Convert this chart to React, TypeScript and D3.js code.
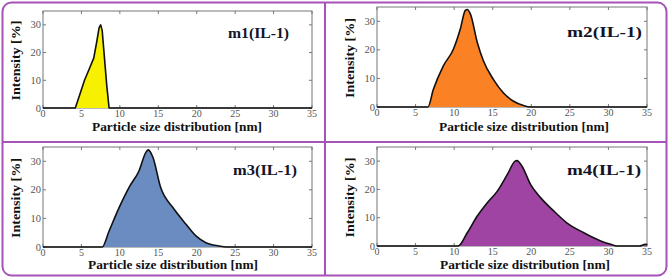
import React from "react";
import * as d3 from "d3";

// ---- Data ----
const xTicks = [0, 5, 10, 15, 20, 25, 30, 35];
const yTicks = [0, 10, 20, 30];
const titles = ["m1(IL-1)", "m2(IL-1)", "m3(IL-1)", "m4(IL-1)"];
const fills = ["#f7f000", "#fb8224", "#6b8cc0", "#a044a4"];

const m1x = [0, 4.2, 4.8, 5.4, 6.0, 6.6, 7.0, 7.3, 7.5, 7.7, 8.0, 8.3, 8.6, 35];
const m1y = [0, 0, 5, 10, 14, 18, 24, 29, 30, 28, 18, 8, 0, 0];

const m2x = [0, 6.6, 7.3, 8.6, 9.9, 10.8, 11.45, 11.7, 12.1, 13.0, 13.8, 15.1, 16.4, 17.7, 19.0, 19.9, 35];
const m2y = [0, 0, 6.1, 14.4, 20.2, 27.3, 33.8, 34.1, 32.6, 22.6, 16.1, 9.6, 4.9, 2.0, 0.5, 0, 0];

const m3x = [0, 7.7, 8.6, 9.9, 11.2, 12.5, 13.4, 13.7, 14.3, 15.3, 16.9, 18.6, 19.9, 21.2, 22.9, 23.8, 35];
const m3y = [0, 0, 5.6, 13.8, 20.9, 26.7, 33.2, 34, 31.4, 20.9, 13.8, 8.0, 3.9, 1.5, 0.35, 0, 0];

const m4x = [0, 10.5, 11.7, 13.0, 14.3, 15.6, 16.9, 17.9, 18.15, 18.8, 19.9, 21.2, 22.9, 24.6, 26.8, 29.0, 30.3, 31.1, 34.0, 34.8, 35];
const m4y = [0, 0, 4.7, 10.6, 15.3, 19.4, 25.3, 30, 30.2, 28.2, 21.8, 17.1, 12.4, 8.2, 4.7, 1.8, 0.6, 0, 0, 0.6, 0.4];

const seriesX = [m1x, m2x, m3x, m4x];
const seriesY = [m1y, m2y, m3y, m4y];

// ---- Layout ----
const boxes = [
  { l: 43, r: 312, t: 11, b: 108, titleX: 228, titleY: 38, titleW: 61, xlabX: 177, xlabY: 131 },
  { l: 377, r: 647, t: 7, b: 107, titleX: 567, titleY: 37, titleW: 75, xlabX: 524, xlabY: 131 },
  { l: 43, r: 312, t: 147, b: 247, titleX: 233, titleY: 175, titleW: 64, xlabX: 173, xlabY: 269 },
  { l: 377, r: 647, t: 147, b: 246, titleX: 567, titleY: 175, titleW: 74, xlabX: 525, xlabY: 268.5 },
];

const FONT = "Liberation Serif, DejaVu Serif, Tinos, serif";
const BORDER = "#a653b8";

function Panel({ i }: { i: number }) {
  const bx = boxes[i];
  const x = d3.scaleLinear().domain([0, 35]).range([bx.l, bx.r]);
  const y = d3.scaleLinear().domain([0, 35]).range([bx.b, bx.t]);
  const pts: [number, number][] = seriesX[i].map((v, k) => [v, seriesY[i][k]]);
  const curve = i === 0 ? d3.curveLinear : d3.curveMonotoneX;
  const area = d3
    .area<[number, number]>()
    .x((d) => x(d[0]))
    .y0(y(0))
    .y1((d) => y(d[1]))
    .curve(curve);
  const line = d3
    .line<[number, number]>()
    .x((d) => x(d[0]))
    .y((d) => y(d[1]))
    .curve(curve);
  const tl = 3;
  return (
    <g>
      <rect x={bx.l} y={bx.t} width={bx.r - bx.l} height={bx.b - bx.t} fill="#fff" stroke="#777" strokeWidth={1} />
      {xTicks.map((t) => (
        <g key={"x" + t}>
          <line x1={x(t)} x2={x(t)} y1={bx.b} y2={bx.b - tl} stroke="#777" />
          <line x1={x(t)} x2={x(t)} y1={bx.t} y2={bx.t + tl} stroke="#777" />
          <text x={x(t)} y={bx.b + 9} textAnchor="middle" fontFamily={FONT} fontSize={10} fill="#555">
            {t}
          </text>
        </g>
      ))}
      {yTicks.map((t) => (
        <g key={"y" + t}>
          <line x1={bx.l} x2={bx.l + tl} y1={y(t)} y2={y(t)} stroke="#777" />
          <line x1={bx.r} x2={bx.r - tl} y1={y(t)} y2={y(t)} stroke="#777" />
          <text x={bx.l - 2} y={y(t) + 3.5} textAnchor="end" fontFamily={FONT} fontSize={10.5} fill="#555">
            {t}
          </text>
        </g>
      ))}
      <path d={area(pts) || ""} fill={fills[i]} />
      <path d={line(pts) || ""} fill="none" stroke="#111" strokeWidth={1.6} strokeLinejoin="round" />
      <text
        x={bx.titleX}
        y={bx.titleY}
        fontFamily={FONT}
        fontWeight="bold"
        fontSize={15}
        fill="#141428"
        textLength={bx.titleW}
        lengthAdjust="spacingAndGlyphs"
      >
        {titles[i]}
      </text>
      <text
        x={bx.xlabX}
        y={bx.xlabY}
        textAnchor="middle"
        fontFamily={FONT}
        fontWeight="bold"
        fontSize={12}
        fill="#111"
        textLength={170}
        lengthAdjust="spacingAndGlyphs"
      >
        Particle size distribution [nm]
      </text>
      <text
        transform={`translate(${bx.l - 23},${(bx.t + bx.b) / 2 + 1}) rotate(-90)`}
        textAnchor="middle"
        fontFamily={FONT}
        fontWeight="bold"
        fontSize={13}
        fill="#111"
        textLength={80}
        lengthAdjust="spacingAndGlyphs"
      >
        Intensity [%]
      </text>
    </g>
  );
}

export default function App() {
  return (
    <svg width={669} height={278} style={{ position: "absolute", left: 0, top: 0, background: "#fff" }}>
      <rect x={0} y={0} width={669} height={278} fill="#fff" />
      {[0, 1, 2, 3].map((i) => (
        <Panel key={i} i={i} />
      ))}
      <rect x={2.5} y={2.5} width={664} height={273} rx={9} fill="none" stroke={BORDER} strokeWidth={2} />
      <line x1={325} x2={325} y1={2.5} y2={275.5} stroke={BORDER} strokeWidth={2} />
      <line x1={2.5} x2={666.5} y1={142} y2={142} stroke={BORDER} strokeWidth={2} />
    </svg>
  );
}
